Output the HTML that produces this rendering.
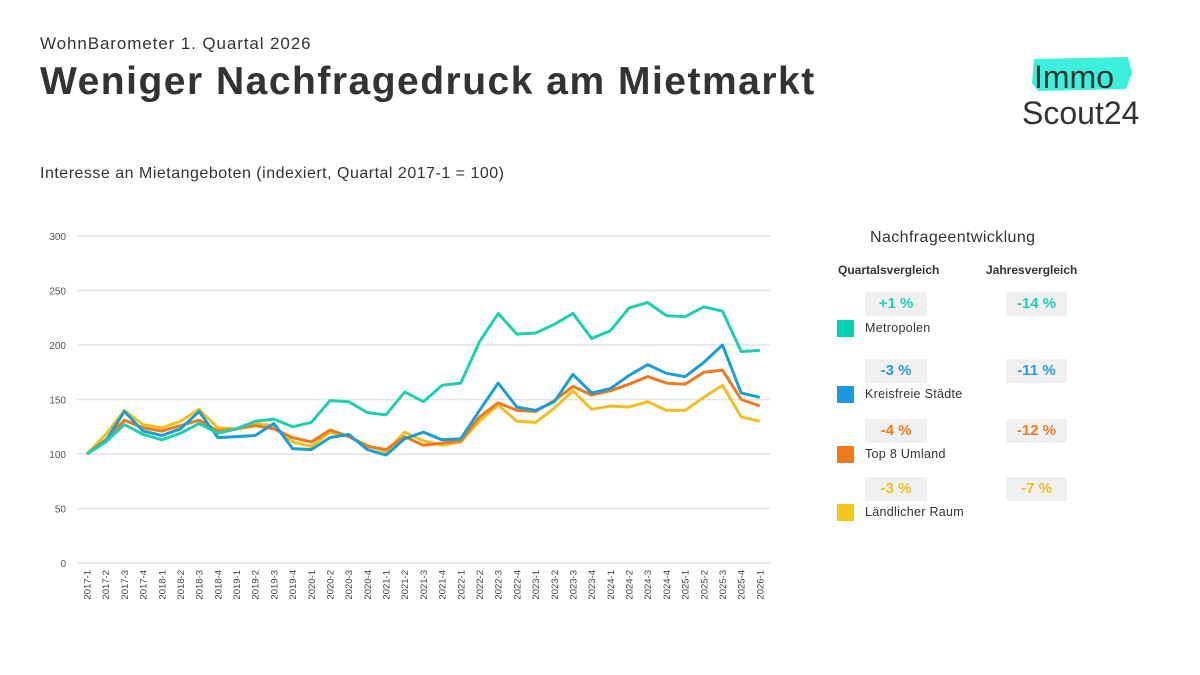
<!DOCTYPE html>
<html><head><meta charset="utf-8">
<style>
body{margin:0;width:1200px;height:675px;background:#fff;font-family:"Liberation Sans",sans-serif;color:#333;position:relative;overflow:hidden}
.a{position:absolute;white-space:nowrap}
.badge{position:absolute;background:#f0f0f0;height:24px;line-height:24px;text-align:center;font-weight:bold;font-size:15px}
.sq{position:absolute;width:17px;height:17px}
.lab{position:absolute;font-size:12.5px;color:#333;letter-spacing:0.3px}
</style></head><body>
<div class="a" style="left:40px;top:34px;font-size:17px;color:#333;letter-spacing:0.9px">WohnBarometer 1. Quartal 2026</div>
<div class="a" style="left:40px;top:60px;font-size:39px;font-weight:bold;color:#333;letter-spacing:1.5px">Weniger Nachfragedruck am Mietmarkt</div>
<div class="a" style="left:40px;top:165px;font-size:16px;color:#333;letter-spacing:0.5px">Interesse an Mietangeboten (indexiert, Quartal 2017-1 = 100)</div>
<svg class="a" style="left:1030px;top:57px" width="104" height="36"><polygon points="4,2 98,0 102,16 96,32 8,34 2,26" fill="#3cf0dc"/></svg>
<div class="a" style="left:1034px;top:59px;font-size:32px;color:#333">Immo</div>
<div class="a" style="left:1022px;top:95px;font-size:32px;color:#333">Scout24</div>
<svg id="ch" class="a" style="left:0;top:0" width="800" height="675"></svg>
<div class="a" style="left:870px;top:229px;font-size:16px;color:#333;letter-spacing:0.4px">Nachfrageentwicklung</div>
<div class="a" style="left:838px;top:263px;font-size:12px;font-weight:bold">Quartalsvergleich</div>
<div class="a" style="left:986px;top:263px;font-size:12px;font-weight:bold">Jahresvergleich</div>

<div class="badge" style="left:865px;top:292px;width:62px;color:#1ecfb0">+1 %</div>
<div class="badge" style="left:1006px;top:292px;width:61px;color:#1ecfb0">-14 %</div>
<div class="sq" style="left:837px;top:320px;background:#00d2b2"></div>
<div class="lab" style="left:865px;top:321px">Metropolen</div>

<div class="badge" style="left:865px;top:359px;width:62px;color:#2a9be0">-3 %</div>
<div class="badge" style="left:1006px;top:359px;width:61px;color:#2a9be0">-11 %</div>
<div class="sq" style="left:837px;top:386px;background:#1f96e0"></div>
<div class="lab" style="left:865px;top:387px">Kreisfreie Städte</div>

<div class="badge" style="left:865px;top:419px;width:62px;color:#ef7a1c">-4 %</div>
<div class="badge" style="left:1006px;top:419px;width:61px;color:#ef7a1c">-12 %</div>
<div class="sq" style="left:837px;top:446px;background:#ef7a1c"></div>
<div class="lab" style="left:865px;top:447px">Top 8 Umland</div>

<div class="badge" style="left:865px;top:477px;width:62px;color:#f0c020">-3 %</div>
<div class="badge" style="left:1006px;top:477px;width:61px;color:#f0c020">-7 %</div>
<div class="sq" style="left:837px;top:504px;background:#f2c81e"></div>
<div class="lab" style="left:865px;top:505px">Ländlicher Raum</div>

<script>
var s=document.getElementById('ch'),h='';
function Y(v){return 563-v*1.09;}
function X(i){return 87+i*18.69;}
for(var v=0;v<=300;v+=50){var y=Y(v);h+='<line x1="77" x2="770" y1="'+y+'" y2="'+y+'" stroke="#e4e4e4" stroke-width="1.5"/>';
h+='<text x="66" y="'+(y+4)+'" text-anchor="end" font-size="10" fill="#555" font-family="Liberation Sans">'+v+'</text>';}
var L=[];for(var yr=2017;yr<=2026;yr++)for(var q=1;q<=4;q++)L.push(yr+'-'+q);L=L.slice(0,37);
L.forEach(function(l,i){var x=X(i)+3.5;h+='<text transform="translate('+x+',570) rotate(-90)" text-anchor="end" font-size="9.5" fill="#444" font-family="Liberation Sans">'+l+'</text>';});
var D=[
['#f0c020',[100,118,140,127,124,130,141,124,123,128,126,111,107,120,116,108,102,120,112,108,111,130,145,130,129,142,158,141,144,143,148,140,140,152,163,134,130]],
['#ef7a1c',[100,113,131,124,121,126,131,121,123,126,123,115,111,122,116,107,104,116,108,110,112,134,147,140,139,149,162,154,158,164,171,165,164,175,177,150,144]],
['#1a9ed8',[100,112,139,121,117,123,139,115,116,117,128,105,104,115,118,104,99,114,120,113,114,140,165,143,140,148,173,156,160,172,182,174,171,184,200,156,152]],
['#1ecfb0',[100,111,127,118,113,119,128,119,123,130,132,125,129,149,148,138,136,157,148,163,165,203,229,210,211,219,229,206,213,234,239,227,226,235,231,194,195]]];
D.forEach(function(d){var p=d[1].map(function(v,i){return X(i).toFixed(1)+','+Y(v).toFixed(1)}).join(' ');
h+='<polyline points="'+p+'" fill="none" stroke="'+d[0]+'" stroke-width="3" stroke-linejoin="round"/>';});
s.innerHTML=h;
</script>
</body></html>
